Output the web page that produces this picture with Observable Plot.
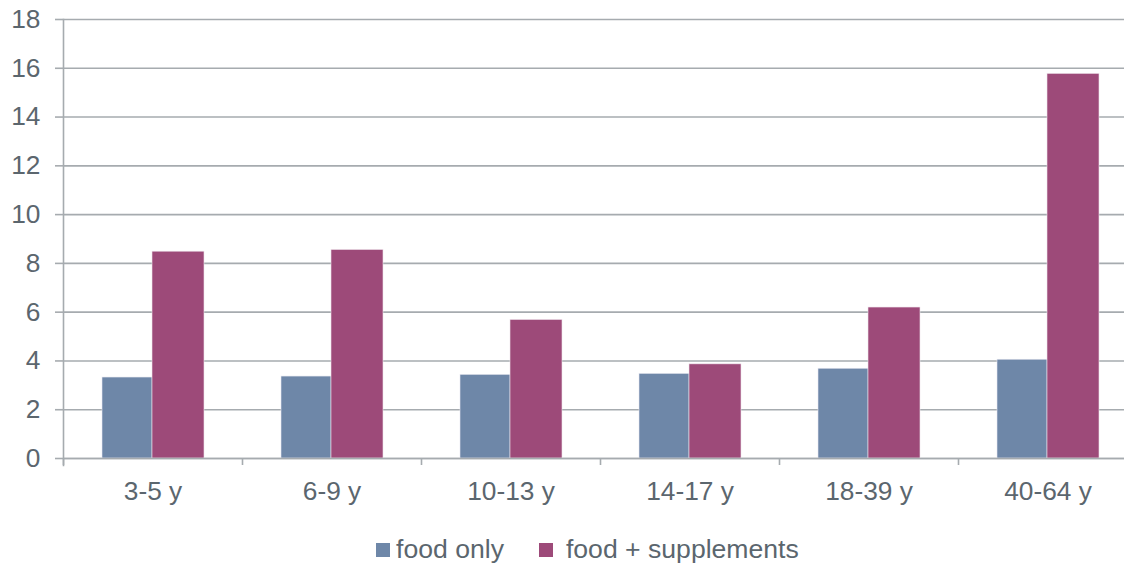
<!DOCTYPE html>
<html>
<head>
<meta charset="utf-8">
<script src="https://cdn.jsdelivr.net/npm/d3@7"></script>
<script src="https://cdn.jsdelivr.net/npm/@observablehq/plot@0.6"></script>
<style>
  html, body { margin: 0; padding: 0; background: #fff; overflow: hidden; width: 1124px; height: 563px; }
  #wrap { width: 1124px; overflow: hidden; }
  #chart { width: 1137px; }
  #chart svg { display: block; max-width: none !important; }
  #legend { display: flex; align-items: center; height: 43px; padding-left: 376px; margin-top: 8px;
            font-family: "Liberation Sans", Arial, sans-serif; font-size: 26.6px; color: #5b666e; }
  .sw { width: 14px; height: 14px; display: inline-block; }
  .item { display: flex; align-items: center; }
</style>
</head>
<body>
<div id="wrap">
  <div id="chart"></div>
  <div id="legend"></div>
</div>
<script>
const categories = ["3-5 y", "6-9 y", "10-13 y", "14-17 y", "18-39 y", "40-64 y"];
const seriesNames = ["food only", "food + supplements"];
const foodOnly = [3.32, 3.36, 3.43, 3.47, 3.68, 4.05];
const foodSupp = [8.48, 8.55, 5.68, 3.86, 6.19, 15.77];
const yTicks = [0, 2, 4, 6, 8, 10, 12, 14, 16, 18];
const colors = ["#6e87a8", "#9d4a79"];

const textColor = "#5b666e";
const gridColor = "#a6abaf";

const dataFood = categories.map((c, i) => ({category: c, value: foodOnly[i]}));
const dataSupp = categories.map((c, i) => ({category: c, value: foodSupp[i]}));

const chart = Plot.plot({
  width: 1137,
  height: 520,
  marginTop: 19,
  marginBottom: 62,
  marginLeft: 63,
  marginRight: 0,
  style: {fontFamily: "'Liberation Sans', Arial, sans-serif", fontSize: "26.3px", color: textColor, background: "#fff"},
  x: {domain: categories, padding: 0, label: null},
  y: {domain: [0, 18], label: null},
  marks: [
    Plot.gridY(yTicks, {stroke: gridColor, strokeOpacity: 1, strokeWidth: 1.6}),
    Plot.barY(dataFood, {x: "category", y: "value", fill: colors[0], insetLeft: 39, insetRight: 90, stroke: "#e8e8f0", strokeWidth: 0.6}),
    Plot.barY(dataSupp, {x: "category", y: "value", fill: colors[1], insetLeft: 89, insetRight: 38, stroke: "#efe4ec", strokeWidth: 0.6}),
    Plot.ruleY([0], {stroke: gridColor, strokeWidth: 1.6}),
    Plot.frame({anchor: "left", stroke: gridColor, strokeWidth: 1.6, insetBottom: -7}),
    Plot.axisY(yTicks, {tickSize: 8, tickPadding: 15, stroke: gridColor, strokeWidth: 1.6, fill: textColor, label: null}),
    Plot.axisX({tickSize: 7, tickFormat: () => "", dx: -89.5, stroke: gridColor, strokeWidth: 1.6, label: null}),
    Plot.axisX({tickSize: 0, tickPadding: 23, fill: textColor, label: null})
  ]
});
document.getElementById("chart").appendChild(chart);

const legend = document.getElementById("legend");
seriesNames.forEach((name, i) => {
  const item = document.createElement("span");
  item.className = "item";
  item.style.marginRight = i === 0 ? "35px" : "0";
  const sw = document.createElement("span");
  sw.className = "sw";
  sw.style.background = colors[i];
  sw.style.marginRight = i === 0 ? "6px" : "13px";
  const label = document.createElement("span");
  label.textContent = name;
  item.appendChild(sw);
  item.appendChild(label);
  legend.appendChild(item);
});
</script>
</body>
</html>
